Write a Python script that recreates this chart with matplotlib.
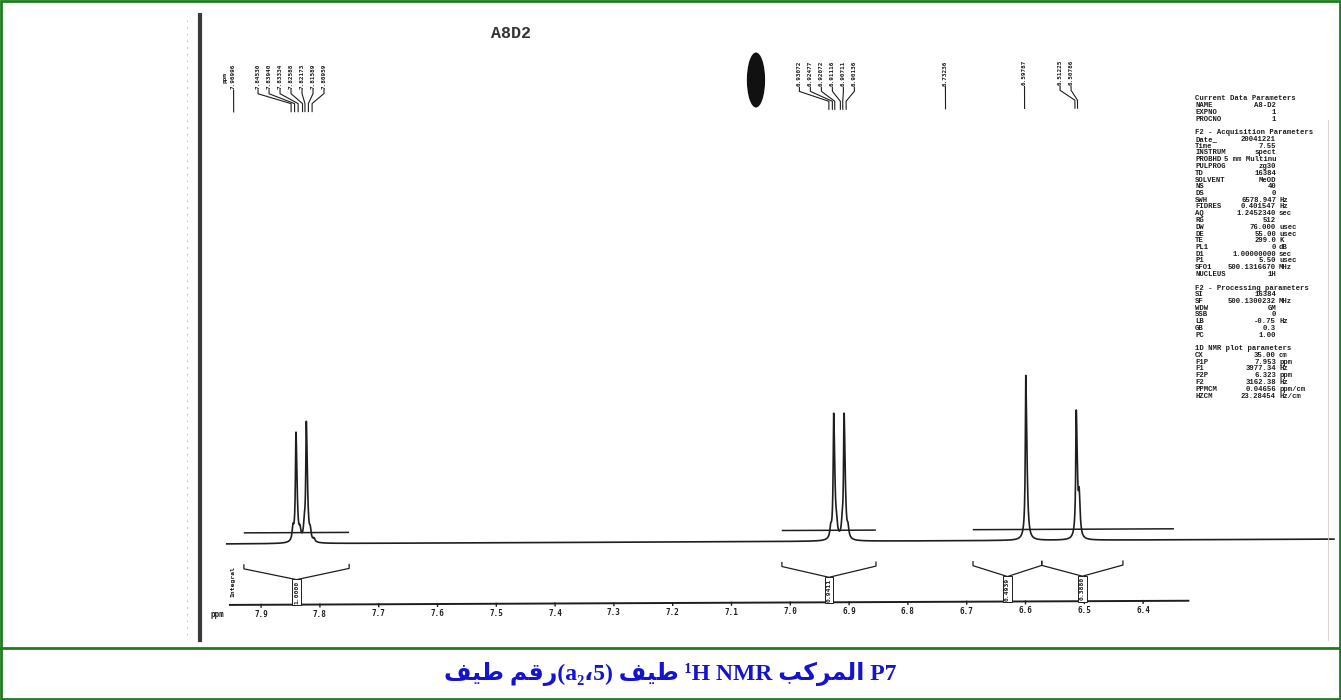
import numpy as np
import matplotlib.pyplot as plt
from matplotlib.patches import Ellipse, Rectangle
from matplotlib.lines import Line2D
from matplotlib.transforms import Affine2D

W, H = 1341, 700

# 1H peak list: printed shift labels and trace heights
peak_ppm = [7.96996, 7.84530, 7.83940, 7.83334, 7.82588, 7.82173, 7.81589, 7.80959,
            6.93072, 6.92477, 6.92072, 6.91116, 6.90711, 6.90136,
            6.73236, 6.59787, 6.51225, 6.50786]
peak_height = [0, 12, 109, 9, 12, 119, 9, 3,
               9, 125, 10, 10, 125, 9,
               0, 165, 126, 38]
label_groups = [[0], [1, 2, 3, 4, 5, 6, 7], [8, 9, 10, 11, 12, 13], [14], [15], [16, 17]]

# integration regions and their values
integral_from = [7.929, 7.014, 6.689, 6.572]
integral_to = [7.750, 6.854, 6.572, 6.434]
integral_text = ["1.0000", "0.9411", "0.4939", "0.3880"]
trace_from = [7.929, 7.014, 6.689]
trace_to = [7.750, 6.854, 6.347]

ppm_ticks = [7.9, 7.8, 7.7, 7.6, 7.5, 7.4, 7.3, 7.2, 7.1, 7.0, 6.9, 6.8, 6.7, 6.6, 6.5, 6.4]
F1P, F2P = 7.953, 6.323

current_pars = [("NAME", "A8-D2", ""), ("EXPNO", "1", ""), ("PROCNO", "1", "")]
acq_pars = [("Date_", "20041221", ""), ("Time", "7.55", ""), ("INSTRUM", "spect", ""),
            ("PROBHD", "5 mm Multinu", ""), ("PULPROG", "zg30", ""), ("TD", "16384", ""),
            ("SOLVENT", "MeOD", ""), ("NS", "40", ""), ("DS", "0", ""),
            ("SWH", "6578.947", "Hz"), ("FIDRES", "0.401547", "Hz"), ("AQ", "1.2452340", "sec"),
            ("RG", "512", ""), ("DW", "76.000", "usec"), ("DE", "55.00", "usec"),
            ("TE", "299.0", "K"), ("PL1", "0", "dB"), ("D1", "1.00000000", "sec"),
            ("P1", "5.50", "usec"), ("SFO1", "500.1316670", "MHz"), ("NUCLEUS", "1H", "")]
proc_pars = [("SI", "16384", ""), ("SF", "500.1300232", "MHz"), ("WDW", "GM", ""),
             ("SSB", "0", ""), ("LB", "-0.75", "Hz"), ("GB", "0.3", ""), ("PC", "1.00", "")]
plot_pars = [("CX", "35.00", "cm"), ("F1P", "7.953", "ppm"), ("F1", "3977.34", "Hz"),
             ("F2P", "6.323", "ppm"), ("F2", "3162.38", "Hz"), ("PPMCM", "0.04656", "ppm/cm"),
             ("HZCM", "23.28454", "Hz/cm")]
par_blocks = [("Current Data Parameters", current_pars),
              ("F2 - Acquisition Parameters", acq_pars),
              ("F2 - Processing parameters", proc_pars),
              ("1D NMR plot parameters", plot_pars)]

ink = "#1e1e1e"
mono = "DejaVu Sans Mono"

fig = plt.figure(figsize=(W / 100, H / 100), dpi=100)
ax = fig.add_axes([0, 0, 1, 1])
ax.set_xlim(7.9 + 260 / 588, 7.9 - (W - 260) / 588)
ax.set_ylim(-158, 542)
ax.axis("off")

# the paper was scanned slightly rotated
tr = ax.transData + Affine2D().rotate_deg_around(670, 350, 0.25)

# spectrum trace
x = np.linspace(7.958, 6.075, 8000)
gam = 0.0016
y = np.zeros_like(x)
for p, h in zip(peak_ppm, peak_height):
    y += h / (1 + ((x - p) / gam) ** 2)
ax.plot(x, y, color=ink, lw=1.2, transform=tr)

# integral traces
ax.hlines([11] * len(trace_from), trace_from, trace_to, color=ink, lw=1.1, transform=tr)

# integral brackets with values
tip, end, bot = -21, -25, -36
for a, b, txt in zip(integral_from, integral_to, integral_text):
    c = (a + b) / 2
    ax.plot([a, a, c, b, b], [tip, end, bot, end, tip], color=ink, lw=0.9, transform=tr)
    ax.text(c, bot - 1, txt, rotation=90, ha="center", va="top", fontsize=4.6,
            family=mono, fontweight="bold", color=ink, transform=tr,
            bbox=dict(boxstyle="square,pad=0.25", fc="white", ec=ink, lw=0.7))

# ppm axis
ax.plot([F1P, F2P], [-61, -61], color=ink, lw=1.4, transform=tr)
ax.vlines(ppm_ticks, -64, -60, color=ink, lw=1.0, transform=tr)
for t in ppm_ticks:
    ax.text(t, -66, f"{t:.1f}", ha="center", va="top", fontsize=5.5, family=mono,
            fontweight="bold", color=ink, transform=tr)
ax.text(7.975, -66, "ppm", ha="center", va="top", fontsize=5.5, family=mono,
        fontweight="bold", color=ink, transform=tr)
ax.text(7.948, -38, "Integral", rotation=90, ha="center", va="center", fontsize=4.6,
        family=mono, fontweight="bold", color=ink, transform=tr)

# peak labels with leader lines
spacing = 0.0187
for grp in label_groups:
    targets = [min(peak_ppm[i], F1P - 0.01) for i in grp]
    k = len(grp)
    centre = np.mean(targets) + (0.018 if k > 1 else 0)
    for j, i in enumerate(grp):
        lx = centre + spacing * ((k - 1) / 2 - j)
        t = targets[j]
        ax.text(lx, 455, f"{peak_ppm[i]:.5f}", rotation=90, ha="center", va="bottom",
                fontsize=4.3, family=mono, fontweight="bold", color=ink, transform=tr)
        ax.plot([lx, lx, t, t], [454, 450, 440, 432], color=ink, lw=0.8, transform=tr)
ax.text(7.958, 466, "ppm", rotation=90, ha="center", va="center", fontsize=4.3,
        family=mono, fontweight="bold", color=ink, transform=tr)

# ink blot on the scan
ax.add_patch(Ellipse((7.0565, 462), 0.031, 55, fc="#111111", ec="none"))

fig.text(511 / W, 1 - 33 / H, "A8D2", ha="center", va="center", fontsize=12,
         family="Liberation Mono", fontweight="bold", color="#333333")

# acquisition / processing parameter listing
row = 0
for head, pars in par_blocks:
    yy = 1 - (99 + row * 6.75) / H
    fig.text(1195 / W, yy, head, ha="left", va="center", fontsize=5.2,
             family="Liberation Mono", fontweight="bold", color=ink)
    row += 1
    for name, val, unit in pars:
        yy = 1 - (99 + row * 6.75) / H
        fig.text(1195 / W, yy, name, ha="left", va="center", fontsize=5.2,
                 family="Liberation Mono", fontweight="bold", color=ink)
        fig.text(1276 / W, yy, val, ha="right", va="center", fontsize=5.2,
                 family="Liberation Mono", fontweight="bold", color=ink)
        if unit:
            fig.text(1279 / W, yy, unit, ha="left", va="center", fontsize=5.2,
                     family="Liberation Mono", fontweight="bold", color=ink)
        row += 1
    row += 1

# scanned page edge
fig.add_artist(Line2D([200 / W, 200 / W], [1 - 15 / H, 1 - 640 / H], lw=3, color="#3a3a3a"))
fig.add_artist(Line2D([187 / W, 187 / W], [1 - 20 / H, 1 - 640 / H], lw=0.6,
                      color="#bbbbbb", ls=(0, (2, 6))))
fig.add_artist(Line2D([1328 / W, 1328 / W], [1 - 120 / H, 1 - 640 / H], lw=0.6, color="#d0d0d0"))

# frame and caption
green = "#1b7d1b"
fig.add_artist(Rectangle((1 / W, 1 / H), 1 - 2 / W, 1 - 2 / H, fill=False, ec=green, lw=2,
                         transform=fig.transFigure))
fig.add_artist(Line2D([0, 1], [1 - 648 / H, 1 - 648 / H], lw=2, color=green))

taif = "\uFED2\uFEF4\uFEC3"
raqm = "\uFEE2\uFED7\uFEAD"
murakkab = "\uFE90\uFEDB\uFEAE\uFEE4\uFEDF\uFE8D"
caption = f"{taif} {raqm}(a\u2082\u060C5) {taif} \u00B9H NMR {murakkab} P7"
fig.text(0.5, 1 - 674 / H, caption, ha="center", va="center", fontsize=17,
         fontweight="bold", color="#1414d0", family=["Liberation Serif", "DejaVu Sans"])

fig.savefig("out.png", dpi=100)
